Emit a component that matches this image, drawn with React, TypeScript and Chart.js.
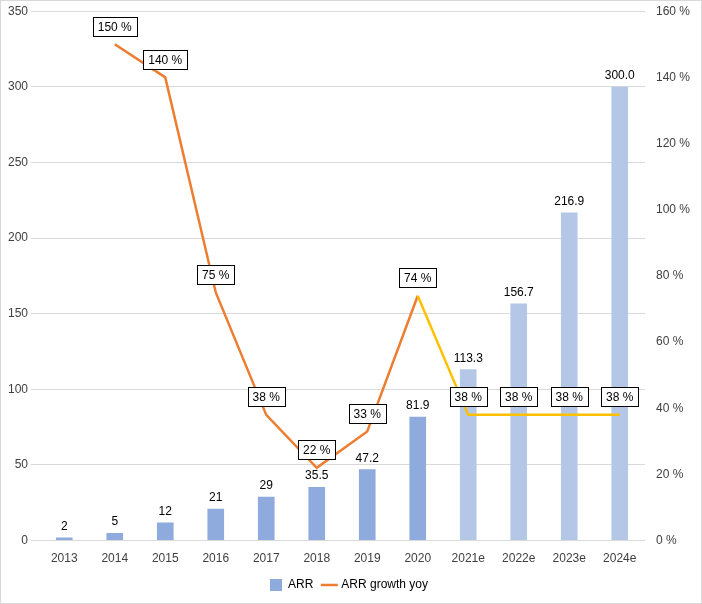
import React, { useEffect, useRef } from "react";
import { Chart, registerables } from "chart.js";
Chart.register(...registerables);

const categories = ["2013","2014","2015","2016","2017","2018","2019","2020","2021e","2022e","2023e","2024e"];
const arrValues = [2,5,12,21,29,35.5,47.2,81.9,113.3,156.7,216.9,300.0];
const arrLabels = ["2","5","12","21","29","35.5","47.2","81.9","113.3","156.7","216.9","300.0"];
const growthValues = [null,150,140,75,38,22,33,74,38,38,38,38];
const leftTicks = [0,50,100,150,200,250,300,350];
const rightTicks = [0,20,40,60,80,100,120,140,160];

const FONT = "'Liberation Sans', Arial, sans-serif";

const labelPlugin = {
  id: "labels",
  afterDatasetsDraw(chart: any) {
    const ctx = chart.ctx;
    ctx.save();
    ctx.font = `12px ${FONT}`;
    ctx.textAlign = "center";
    ctx.textBaseline = "middle";
    const barMeta = chart.getDatasetMeta(0);
    barMeta.data.forEach((el: any, i: number) => {
      ctx.fillStyle = "#000";
      ctx.fillText(arrLabels[i], el.x, el.y - 11);
    });
    const lineMeta = chart.getDatasetMeta(1);
    lineMeta.data.forEach((el: any, i: number) => {
      const v = growthValues[i];
      if (v == null) return;
      const t = `${v} %`;
      const w = ctx.measureText(t).width + 10;
      const h = 19;
      const cy = el.y - 18;
      ctx.fillStyle = "#fff";
      ctx.fillRect(el.x - w / 2, cy - h / 2, w, h);
      ctx.strokeStyle = "#000";
      ctx.lineWidth = 1;
      ctx.strokeRect(Math.round(el.x - w / 2) + 0.5, Math.round(cy - h / 2) + 0.5, Math.round(w), h);
      ctx.fillStyle = "#000";
      ctx.fillText(t, el.x, cy + 1);
    });
    ctx.restore();
  },
};

export default function App() {
  const ref = useRef<HTMLCanvasElement>(null);
  useEffect(() => {
    const chart = new Chart(ref.current!, {
      data: {
        labels: categories,
        datasets: [
          {
            type: "bar",
            label: "ARR",
            data: arrValues,
            backgroundColor: arrValues.map((_, i) => (i < 8 ? "#8faadc" : "#b4c7e7")),
            categoryPercentage: 0.6,
            barPercentage: 0.55,
            yAxisID: "y",
            order: 2,
          },
          {
            type: "line",
            label: "ARR growth yoy",
            data: growthValues as any,
            borderColor: "#ed7d31",
            backgroundColor: "#ed7d31",
            borderWidth: 2.5,
            pointRadius: 0,
            tension: 0,
            yAxisID: "y1",
            order: 1,
            segment: {
              borderColor: (c: any) => (c.p0DataIndex >= 7 ? "#ffc000" : "#ed7d31"),
            },
          },
        ],
      } as any,
      options: {
        animation: false,
        responsive: false,
        layout: { padding: { left: 4, right: 8, top: 8, bottom: 2 } },
        plugins: {
          legend: {
            position: "bottom",
            labels: {
              font: { family: FONT, size: 12 },
              color: "#404040",
              usePointStyle: true,
              generateLabels: () => [
                { text: "ARR", fillStyle: "#8faadc", strokeStyle: "#8faadc", pointStyle: "rect", lineWidth: 0, datasetIndex: 0 },
                { text: "ARR growth yoy", fillStyle: "#ed7d31", strokeStyle: "#ed7d31", pointStyle: "line", lineWidth: 2.5, datasetIndex: 1 },
              ] as any,
            },
          },
          tooltip: { enabled: false },
        },
        scales: {
          x: {
            grid: { display: false },
            border: { color: "#d9d9d9" },
            ticks: { font: { family: FONT, size: 12 }, color: "#404040", maxRotation: 0 },
          },
          y: {
            min: 0, max: 350,
            afterBuildTicks: (a: any) => { a.ticks = leftTicks.map((v) => ({ value: v })); },
            grid: { color: "#d9d9d9" },
            border: { display: false },
            ticks: { font: { family: FONT, size: 12 }, color: "#404040" },
          },
          y1: {
            position: "right",
            min: 0, max: 160,
            afterBuildTicks: (a: any) => { a.ticks = rightTicks.map((v) => ({ value: v })); },
            grid: { display: false },
            border: { display: false },
            ticks: { font: { family: FONT, size: 12 }, color: "#404040", callback: (v: any) => `${v} %` },
          },
        },
      } as any,
      plugins: [labelPlugin],
    });
    return () => chart.destroy();
  }, []);
  return (
    <div style={{ position: "absolute", left: 0, top: 0, width: 702, height: 604, background: "#fff", boxSizing: "border-box", border: "1px solid #d9d9d9" }}>
      <canvas ref={ref} width={700} height={602} />
    </div>
  );
}
